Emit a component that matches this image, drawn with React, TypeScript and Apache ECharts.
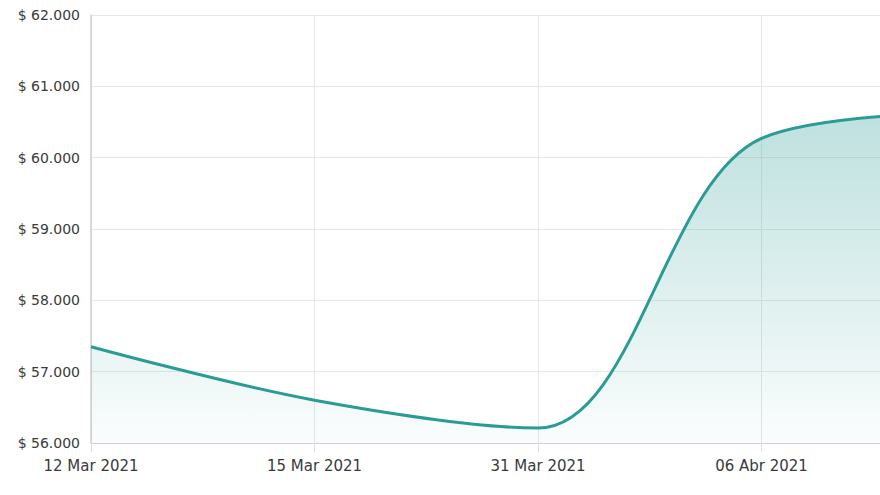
import React, { useEffect, useRef } from "react";
import * as echarts from "echarts";

const categories = ["12 Mar 2021", "15 Mar 2021", "31 Mar 2021", "06 Abr 2021", "12 Abr 2021"];
const prices = [57350, 56600, 56210, 60270, 60640];
const yMin = 56000;
const yMax = 62000;
const yInterval = 1000;

function fmt(v: number): string {
  return "$ " + Math.round(v).toString().replace(/\B(?=(\d{3})+(?!\d))/g, ".");
}

export default function App() {
  const ref = useRef<HTMLDivElement>(null);
  useEffect(() => {
    document.body.style.margin = "0";
    document.body.style.overflow = "hidden";
    const chart = echarts.init(ref.current!, undefined, { renderer: "svg" });
    chart.setOption({
      animation: false,
      backgroundColor: "#ffffff",
      grid: { left: 91, right: 15, top: 15, bottom: 52, outerBoundsMode: "none", containLabel: false },
      xAxis: {
        type: "category",
        data: categories,
        boundaryGap: false,
        axisLine: { show: true, lineStyle: { color: "#cfcfcf", width: 1 } },
        axisTick: { show: true, length: 9, lineStyle: { color: "#dedede" } },
        splitLine: { show: true, lineStyle: { color: "#e6e6e6", width: 1 } },
        axisLabel: {
          color: "#3a3a3a",
          fontFamily: "'DejaVu Sans', sans-serif",
          fontSize: 15,
          margin: 15,
          showMaxLabel: false,
        },
      },
      yAxis: {
        type: "value",
        min: yMin,
        max: yMax,
        interval: yInterval,
        axisLine: { show: true, lineStyle: { color: "#cfcfcf", width: 1.5 } },
        axisTick: { show: false },
        splitLine: { show: true, lineStyle: { color: "#e8e8e8", width: 1 } },
        axisLabel: {
          color: "#3a3a3a",
          fontFamily: "'DejaVu Sans', sans-serif",
          fontSize: 14,
          margin: 11,
          formatter: (v: number) => fmt(v),
        },
      },
      series: [
        {
          type: "line",
          data: prices,
          smooth: 0.35,
          showSymbol: false,
          symbol: "none",
          lineStyle: { color: "#2b9c95", width: 3 },
          areaStyle: {
            color: new echarts.graphic.LinearGradient(0, 0, 0, 1, [
              { offset: 0, color: "rgba(46,158,152,0.45)" },
              { offset: 1, color: "rgba(46,158,152,0.03)" },
            ]),
          },
        },
      ],
    });
    return () => chart.dispose();
  }, []);
  return (
    <div style={{ position: "fixed", left: 0, top: 0, width: 880, height: 495, overflow: "hidden", background: "#fff" }}>
      <div ref={ref} style={{ width: 1000, height: 495 }} />
    </div>
  );
}
